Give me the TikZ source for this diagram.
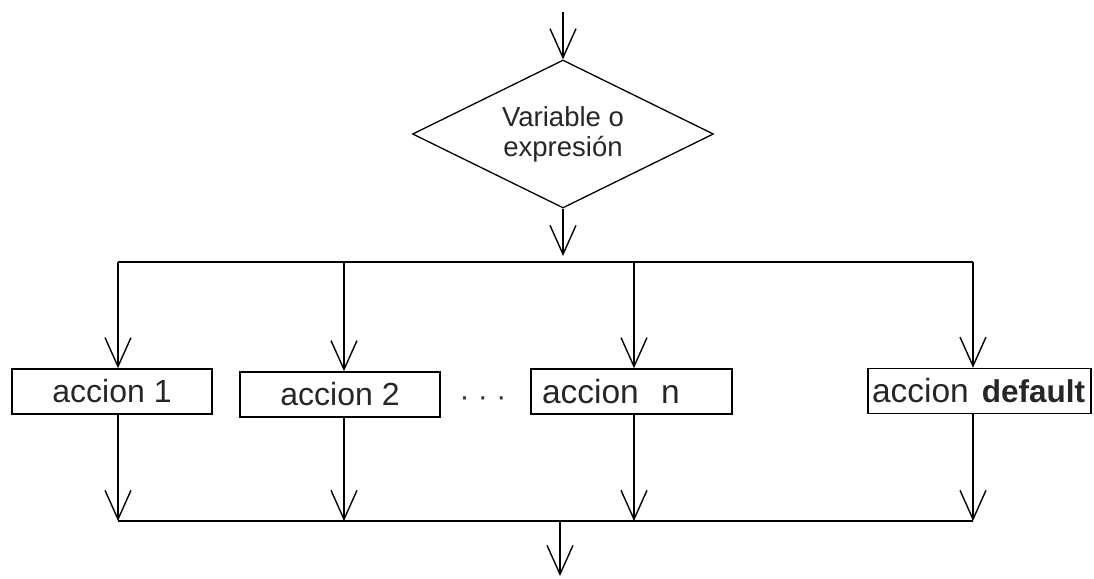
\documentclass[tikz,border=0pt]{standalone}
\usepackage{fontspec}
\setmainfont{Liberation Sans}
\usetikzlibrary{arrows.meta,shapes.geometric}
\begin{document}
\begin{tikzpicture}[x=1pt,y=-1pt,
  line width=1.5pt,
  flow/.style={-{Straight Barb[length=29pt,width=26pt,line width=1.4pt]}},
  box/.style={draw, rectangle, minimum height=45pt, inner sep=0pt, text=black!85},
  decision/.style={draw, diamond, aspect=2, minimum width=301pt, minimum height=148pt,
    inner sep=0pt, line width=1.3pt, align=center, text=black!85,
    font=\fontsize{27.5}{30}\selectfont}
]
\useasboundingbox (0,0) rectangle (1094,578);

\node[decision] (d) at (563,134) {Variable o\\expresión};

\node[box, minimum width=200pt, font=\fontsize{32}{34}\selectfont] (b1) at (112,391.5) {accion 1};
\node[box, minimum width=200pt, font=\fontsize{32}{34}\selectfont] (b2) at (340,394.5) {accion 2};
\node[box, inner xsep=11pt, text width=179pt, align=left, font=\fontsize{33.5}{36}\selectfont] (bn) at (631.5,391.5) {accion\ \ n};
\node[box, inner xsep=4pt, text width=215pt, align=left, font=\fontsize{33.5}{36}\selectfont] (bd) at (979.5,391) {accion\hspace{13pt}\textbf{\fontsize{31.5}{34}\selectfont default}};
\node[font=\fontsize{30}{32}\selectfont, text=black!80] (dots) at (483,402) {·\ ·\ ·};

\coordinate (start) at (563,12);
\coordinate (split) at (563,262);
\coordinate (t1) at (118,262);
\coordinate (t2) at (344,262);
\coordinate (t3) at (634,262);
\coordinate (t4) at (973,262);
\coordinate (u1) at (118,521);
\coordinate (u2) at (344,521);
\coordinate (u3) at (634,521);
\coordinate (u4) at (973,521);
\coordinate (join) at (560,521);
\coordinate (out) at (560,576);

\draw[flow] (start) -- (d.north);
\draw[flow, shorten >=6pt] (d.south) -- (split);
\draw (t1) -- (t4);
\draw[flow] (t1) -- (t1 |- b1.north);
\draw[flow] (t2) -- (t2 |- b2.north);
\draw[flow] (t3) -- (t3 |- bn.north);
\draw[flow] (t4) -- (t4 |- bd.north);
\draw[flow] (b1.south -| u1) -- (u1);
\draw[flow] (b2.south -| u2) -- (u2);
\draw[flow] (bn.south -| u3) -- (u3);
\draw[flow] (bd.south -| u4) -- (u4);
\draw (u1) -- (u4);
\draw[flow] (join) -- (out);
\end{tikzpicture}
\end{document}
